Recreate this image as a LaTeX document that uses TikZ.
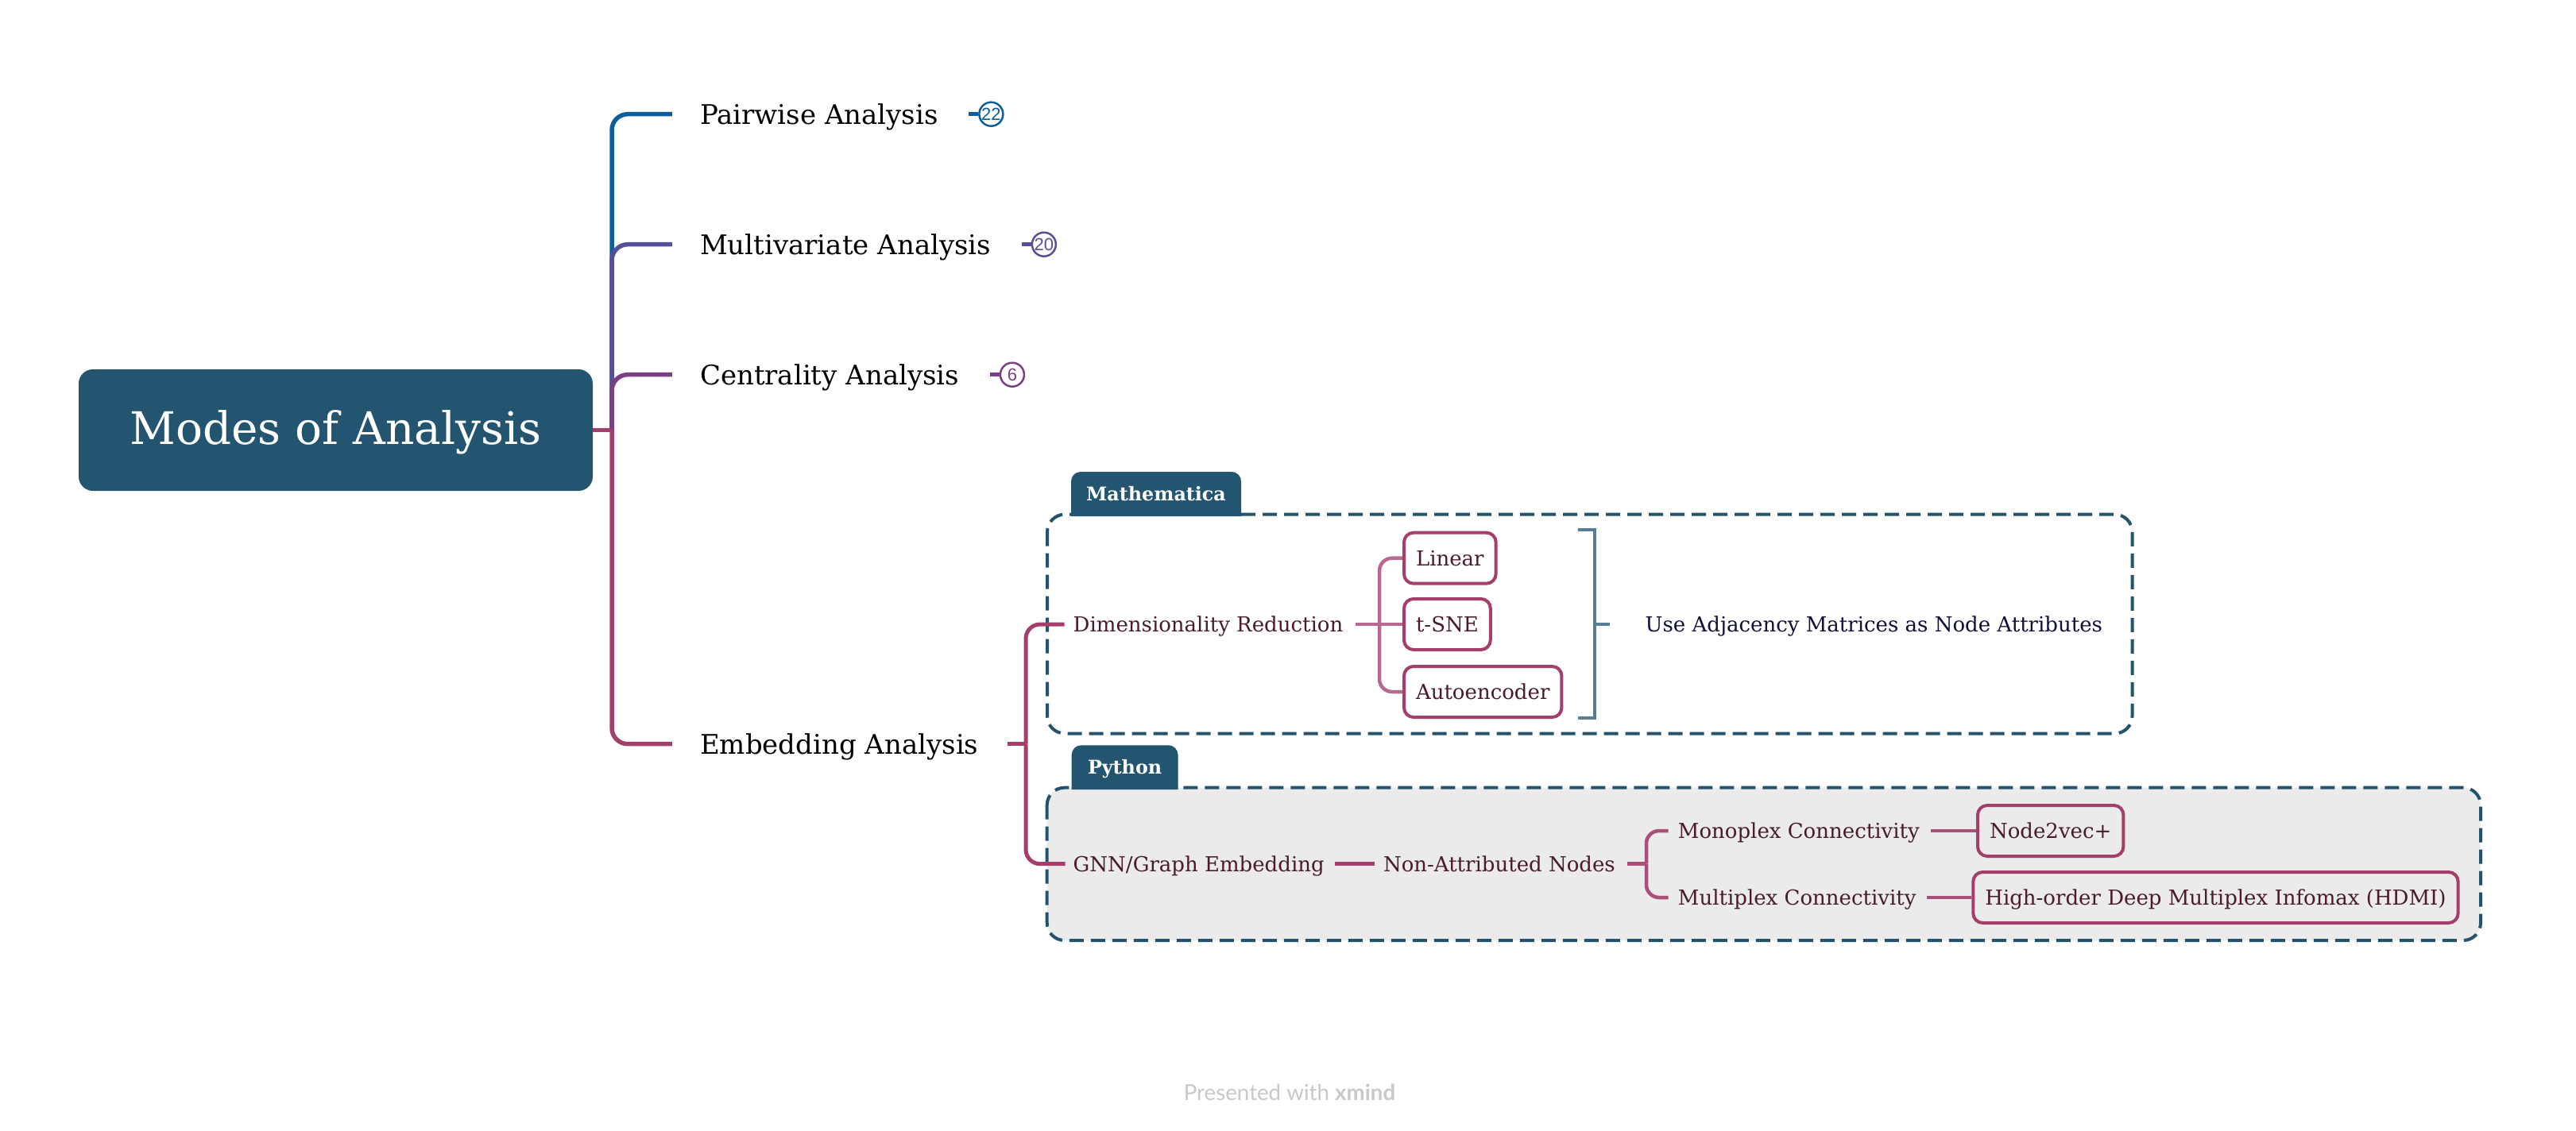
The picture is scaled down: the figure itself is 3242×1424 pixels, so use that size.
\documentclass[tikz,border=0pt]{standalone}
\usepackage{fontspec}
\setmainfont{DejaVu Serif}
\newfontfamily\badgefont{Liberation Sans}
\newfontfamily\wmfont{Lato}
\usetikzlibrary{calc}
\definecolor{rootc}{HTML}{235570}
\definecolor{cblue}{HTML}{0D5E9D}
\definecolor{cpurp}{HTML}{574F9B}
\definecolor{cviol}{HTML}{7C3F86}
\definecolor{ccrim}{HTML}{A33F6A}
\definecolor{cmid}{HTML}{A8507A}
\definecolor{cpink}{HTML}{B8698F}
\definecolor{cframe}{HTML}{24536D}
\definecolor{cbrack}{HTML}{587E97}
\definecolor{ctext}{HTML}{4A1B2D}
\definecolor{cnavy}{HTML}{10103A}
\definecolor{cgray}{HTML}{EBEBEB}
\definecolor{cwm}{HTML}{C8C8C8}
\newcommand\fmain{\fontsize{34}{40}\selectfont}
\newcommand\fsub{\fontsize{26}{31}\selectfont}
\newcommand\froot{\fontsize{56.5}{66}\selectfont}
\newcommand\ftab{\bfseries\fontsize{23.8}{28}\selectfont}
\tikzset{
  rootbox/.style={fill=rootc, text=white, rounded corners=18pt, minimum width=647pt, minimum height=153pt, inner sep=0pt, font=\froot, text height=41.2pt, text depth=5pt},
  mainlab/.style={anchor=west, inner sep=0pt, font=\fmain, text=black, text height=24.8pt, text depth=0pt},
  sublab/.style={anchor=west, inner sep=0pt, font=\fsub, text=ctext, text height=19pt, text depth=0pt},
  leafbox/.style={sublab, draw=ccrim, line width=4pt, rounded corners=12pt, inner xsep=15pt, minimum height=64pt},
  badge/.style={circle, draw=#1, text=#1, line width=2.5pt, minimum size=30pt, inner sep=0pt, font=\badgefont\fontsize{22}{22}\selectfont},
  branch/.style={line width=5.5pt, rounded corners=20pt},
  branchb/.style={line width=5pt, rounded corners=18pt},
  branchc/.style={line width=4.5pt, rounded corners=16pt},
  stubline/.style={line width=5pt},
  frame/.style={draw=cframe, line width=4pt, dash pattern=on 18pt off 9pt, rounded corners=22pt},
  tabtext/.style={text=white, font=\ftab, inner sep=0pt, text height=17.4pt, text depth=0pt},
  bracket/.style={draw=cbrack, line width=4pt}
}
\begin{document}
\begin{tikzpicture}[x=1pt,y=-1pt]
\useasboundingbox (0,0) rectangle (3242,1424);
\fill[white] (0,0) rectangle (3242,1424);

% group frames
\draw[frame, fill=white] (1318,647.7) rectangle (2683.5,923.5);
\draw[frame, fill=cgray] (1317.7,991.7) rectangle (3122,1184);
\fill[rootc] (1348,650) [rounded corners=12pt] -- (1348,594) -- (1562,594) [sharp corners] -- (1562,650) -- cycle;
\fill[rootc] (1348.7,994) [rounded corners=12pt] -- (1348.7,938.3) -- (1482.5,938.3) [sharp corners] -- (1482.5,994) -- cycle;
\node[tabtext] (mtab) at (1455,621.9) {Mathematica};
\node[tabtext] (ptab) at (1415.6,966) {Python};

% nodes
\node[rootbox] (root) at (422.5,541.5) {Modes of Analysis};
\node[mainlab] (pa) at (880.8,143.7) {Pairwise Analysis};
\node[mainlab] (mv) at (880.8,307.7) {Multivariate Analysis};
\node[mainlab] (ce) at (880.8,471.7) {Centrality Analysis};
\node[mainlab] (em) at (880.8,936.7) {Embedding Analysis};
\node[badge=cblue] (b1) at ($(pa.east)+(66.5,0)$) {22};
\node[badge=cpurp] (b2) at ($(mv.east)+(66.5,0)$) {20};
\node[badge=cviol] (b3) at ($(ce.east)+(66.5,0)$) {6};

\node[sublab] (dim) at (1350.5,786) {Dimensionality Reduction};
\node[leafbox] (lin) at (1765,702.7) {Linear};
\node[leafbox] (tsne) at (1765,786) {t-SNE};
\node[leafbox] (auto) at (1765,871) {Autoencoder};
\node[sublab, text=cnavy] (use) at (2070.5,786) {Use Adjacency Matrices as Node Attributes};

\node[sublab] (gnn) at (1350.5,1087.7) {GNN/Graph Embedding};
\node[sublab] (non) at (1740.8,1087.7) {Non-Attributed Nodes};
\node[sublab] (mono) at (2111.7,1046) {Monoplex Connectivity};
\node[sublab] (mult) at (2111.7,1130) {Multiplex Connectivity};
\node[leafbox] (n2v) at (2487,1046) {Node2vec+};
\node[leafbox] (hdmi) at (2481.3,1130) {High-order Deep Multiplex Infomax (HDMI)};

\node[font=\wmfont\fontsize{27.7}{28}\selectfont, text=cwm, inner sep=0pt] (wm) at (1623,1375) {Presented with \textbf{xmind}};

% main branches
\coordinate (t1) at (770,541.5);
\draw[branch, cblue] (t1) |- ([xshift=-35pt]pa.west);
\draw[branch, cpurp] (t1) |- ([xshift=-35pt]mv.west);
\draw[branch, cviol] (t1) |- ([xshift=-35pt]ce.west);
\draw[branch, ccrim] (t1) |- ([xshift=-35pt]em.west);
\draw[stubline, ccrim] (root.east) -- (t1);

% badge stubs
\draw[stubline, cblue] ([xshift=-12pt]b1.west) -- (b1.west);
\draw[stubline, cpurp] ([xshift=-12pt]b2.west) -- (b2.west);
\draw[stubline, cviol] ([xshift=-12pt]b3.west) -- (b3.west);

% embedding sub-branches
\coordinate (t2) at (1291,936.7);
\draw[stubline, ccrim] ([xshift=36pt]em.east) -- (t2);
\draw[branchb, ccrim] (t2) |- ([xshift=-11pt]dim.west);
\draw[branchb, ccrim] (t2) |- ([xshift=-10pt]gnn.west);

% dimensionality reduction
\coordinate (t3) at (1736,786);
\draw[branchc, cpink] ([xshift=15pt]dim.east) -- (tsne.west);
\draw[branchc, cpink] (t3) |- (lin.west);
\draw[branchc, cpink] (t3) |- (auto.west);
\draw[bracket] (1986,667) -- (2007,667) -- (2007,904) -- (1986,904);
\draw[bracket] (2007,786) -- ([xshift=-45pt]use.west);

% python
\draw[branchc, ccrim] ([xshift=13pt]gnn.east) -- ([xshift=-11pt]non.west);
\coordinate (t4) at (2072,1087.7);
\draw[branchc, cmid] ([xshift=15pt]non.east) -- (t4);
\draw[branchc, cmid] (t4) |- ([xshift=-12pt]mono.west);
\draw[branchc, cmid] (t4) |- ([xshift=-12pt]mult.west);
\draw[branchc, cmid] ([xshift=14pt]mono.east) -- (n2v.west);
\draw[branchc, cmid] ([xshift=13pt]mult.east) -- (hdmi.west);
\end{tikzpicture}
\end{document}
